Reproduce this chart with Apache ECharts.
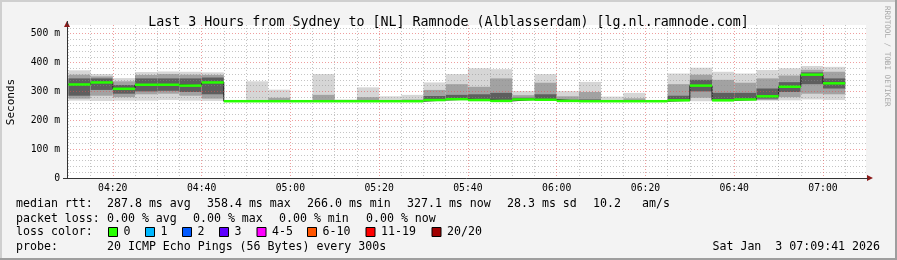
<!DOCTYPE html>
<html><head><meta charset="utf-8">
<script src="https://cdn.jsdelivr.net/npm/echarts@6/dist/echarts.min.js"></script>
<style>html,body{margin:0;padding:0;background:#f3f3f3}#c{width:897px;height:260px}</style>
</head><body><div id="c"></div>
<script>
// ---- data (ms) : 5-minute steps, smoke quantiles ----
const times  = ['04:10','04:15','04:20','04:25','04:30','04:35','04:40','04:45','04:50','04:55',
                '05:00','05:05','05:10','05:15','05:20','05:25','05:30','05:35','05:40','05:45',
                '05:50','05:55','06:00','06:05','06:10','06:15','06:20','06:25','06:30','06:35',
                '06:40','06:45','06:50','06:55','07:00'];
const pMin   = [268,267,268,268,270,268,267,266,266,266, 266,266,266,266,266,266,268,270,268,266, 270,268,266,266,266,266,266,268,266,267, 269,268,269,272,270];
const pLo2   = [275,285,280,290,292,285,275,266,266,266, 266,266,266,266,266,266,269,271,269,267, 271,269,266,266,266,266,266,269,278,268, 270,270,280,292,290];
const pLo1   = [285,305,292,300,302,298,290,266,266,266, 266,266,266,266,266,266,270,272,270,267, 271,270,267,266,266,266,266,269,300,269, 271,275,298,325,310];
const median = [324,331,309,323,323,320,331,266,266,266, 266,266,266,266,266,266,270,273,270,267, 272,271,267,266,266,266,266,269,320,269, 272,283,316,358,328];
const pHi1   = [345,345,322,345,345,345,348,266,267,268, 266,268,266,268,266,267,284,288,290,295, 278,290,271,272,266,268,266,285,340,295, 295,310,332,366,345];
const pHi2   = [358,352,335,357,360,358,357,266,269,278, 266,288,268,280,270,272,305,325,316,345, 287,330,283,298,270,276,266,325,358,340, 330,345,355,375,368];
const pMax   = [373,360,346,367,369,368,366,266,335,306, 266,360,272,314,283,288,331,360,380,377, 301,360,301,333,282,295,268,362,382,368, 362,374,380,388,385];
const yTicks = [0,100,200,300,400,500];
const axisStartTime = '04:09:41', axisEndTime = '07:09:41';
const titleText = 'Last 3 Hours from Sydney to [NL] Ramnode (Alblasserdam) [lg.nl.ramnode.com]';
const lossLabels = ['0','1','2','3','4-5','6-10','11-19','20/20'];
const lossColors = ['#26ff00','#00b8ff','#0059ff','#5e00ff','#ff00ff','#ff5500','#ff0000','#a00000'];

// ---- helpers ----
const MONO = '"DejaVu Sans Mono", monospace';
const toMin = t => { const p = t.split(':').map(Number); return p[0]*60 + p[1] + (p[2]||0)/60; };
const STEP = 5;
const xMin = toMin(axisStartTime), xMax = toMin(axisEndTime);
const pad = n => (n < 10 ? '0' : '') + n;
const smokeData = times.map((t,i) => [toMin(t), toMin(t)+STEP, pMin[i], pLo2[i], pLo1[i], pHi1[i], pHi2[i], pMax[i]]);
const medData = times.map((t,i) => [toMin(t), toMin(t)+STEP, median[i]]);
const stepData = times.map((t,i) => [toMin(t), median[i]]);
stepData.push([toMin(times[times.length-1]) + STEP, median[median.length-1]]);

const chart = echarts.init(document.getElementById('c'), null, {renderer:'canvas', width:897, height:260});

function txt(x, y, s, align) {
  return {type:'text', x, y, silent:true, z:100,
    style:{text:s, fontFamily:MONO, fontSize:11.6, fill:'#000', verticalAlign:'middle', align:align||'left'}};
}
const graphics = [
  // frame shading
  {type:'rect', shape:{x:0,y:0,width:897,height:2}, style:{fill:'#cfcfcf'}, silent:true},
  {type:'rect', shape:{x:0,y:0,width:2,height:260}, style:{fill:'#cfcfcf'}, silent:true},
  {type:'rect', shape:{x:0,y:258,width:897,height:2}, style:{fill:'#9e9e9e'}, silent:true},
  {type:'rect', shape:{x:895,y:0,width:2,height:260}, style:{fill:'#9e9e9e'}, silent:true},
  // axis arrows
  {type:'polygon', shape:{points:[[867,175],[867,181],[873,178]]}, style:{fill:'#8b1a1a'}, silent:true, z:100},
  {type:'polygon', shape:{points:[[64,27],[70,27],[67,21]]}, style:{fill:'#8b1a1a'}, silent:true, z:100},
  {type:'line', shape:{x1:67.5,y1:21,x2:67.5,y2:25}, style:{stroke:'#333',lineWidth:1}, silent:true, z:100},
  {type:'line', shape:{x1:866,y1:178.5,x2:868,y2:178.5}, style:{stroke:'#333',lineWidth:1}, silent:true, z:100},
  {type:'line', shape:{x1:63,y1:178.5,x2:67,y2:178.5}, style:{stroke:'#333',lineWidth:1}, silent:true, z:100},
  // vertical texts
  {type:'text', x:11, y:102, rotation:Math.PI/2, silent:true,
    style:{text:'Seconds', fontFamily:MONO, fontSize:11, fill:'#000', align:'center', verticalAlign:'middle'}},
  {type:'text', x:887, y:6, rotation:-Math.PI/2, silent:true,
    style:{text:'RRDTOOL / TOBI OETIKER', fontFamily:MONO, fontSize:7.6, fill:'#a8a8a8', align:'left', verticalAlign:'middle'}},
  // legend lines
  txt(16, 204, 'median rtt:'),
  txt(107, 204, '287.8 ms avg'),
  txt(207, 204, '358.4 ms max'),
  txt(307, 204, '266.0 ms min'),
  txt(407, 204, '327.1 ms now'),
  txt(507, 204, '28.3 ms sd'),
  txt(593, 204, '10.2'),
  txt(642, 204, 'am/s'),
  txt(16, 218.7, 'packet loss:'),
  txt(107, 218.7, '0.00 % avg'),
  txt(193, 218.7, '0.00 % max'),
  txt(279, 218.7, '0.00 % min'),
  txt(366, 218.7, '0.00 % now'),
  txt(16, 232.3, 'loss color:'),
  txt(16, 246.7, 'probe:'),
  txt(107, 246.7, '20 ICMP Echo Pings (56 Bytes) every 300s'),
  txt(880, 246.7, 'Sat Jan  3 07:09:41 2026', 'right')
];
const boxX = [108.5,145.5,182.5,219.5,257,307.5,366,432];
lossLabels.forEach((l,i) => {
  graphics.push({type:'rect', shape:{x:boxX[i], y:227.5, width:9, height:9}, style:{fill:lossColors[i], stroke:'#000', lineWidth:1}, silent:true, z:100});
  graphics.push(txt(boxX[i]+15, 232.3, l));
});

const option = {
  animation:false,
  backgroundColor:'#f3f3f3',
  title:{text:titleText, left:'center', top:11, textStyle:{fontFamily:MONO, fontSize:13.3, fontWeight:'normal', color:'#000'}},
  grid:{left:67, top:25, width:799, height:153, show:true, backgroundColor:'#ffffff', borderWidth:0},
  xAxis:{type:'value', min:xMin, max:xMax, splitNumber:9, z:5,
    axisLine:{show:true, onZero:false, lineStyle:{color:'#333', width:1}},
    axisTick:{show:false},
    axisLabel:{margin:5, fontFamily:MONO, fontSize:9.75, color:'#000', showMinLabel:false, showMaxLabel:false,
      formatter:v => { const m = Math.round(v); if (Math.abs(v-m) > 1e-6 || m % 20) return ''; return pad(Math.floor(m/60)) + ':' + pad(m%60); }},
    splitLine:{show:true, showMinLine:false, showMaxLine:false, lineStyle:{color:'rgba(225,80,80,0.55)', type:[1,2], width:1}},
    minorTick:{show:false, splitNumber:4},
    minorSplitLine:{show:true, lineStyle:{color:'rgba(140,140,140,0.5)', type:[1,2], width:1}}
  },
  yAxis:{type:'value', min:0, max:530, splitNumber:5, z:5,
    axisLine:{show:true, lineStyle:{color:'#333', width:1}},
    axisTick:{show:false},
    axisLabel:{margin:7, fontFamily:MONO, fontSize:9.75, color:'#000', showMaxLabel:false,
      formatter:v => yTicks.indexOf(v) < 0 ? '' : (v === 0 ? '0' : v + ' m')},
    splitLine:{show:true, showMinLine:false, showMaxLine:false, lineStyle:{color:'rgba(225,80,80,0.55)', type:[1,2], width:1}},
    minorTick:{show:false, splitNumber:5},
    minorSplitLine:{show:true, lineStyle:{color:'rgba(140,140,140,0.5)', type:[1,2], width:1}}
  },
  series:[
    {type:'custom', name:'smoke', z:2, data:smokeData, encode:{x:[0,1], y:[2,3,4,5,6,7]},
      renderItem:(params, api) => {
        const x0 = api.value(0), x1 = api.value(1);
        const bands = [[2,7,'#d6d6d6'],[3,6,'#a2a2a2'],[4,5,'#5e5e5e']];
        const children = [];
        bands.forEach(b => {
          const a = api.coord([x0, api.value(b[1])]);
          const c = api.coord([x1, api.value(b[0])]);
          const h = c[1] - a[1];
          if (h > 0.3) children.push({type:'rect', shape:{x:a[0], y:a[1], width:c[0]-a[0], height:h}, style:{fill:b[2]}});
        });
        return {type:'group', children};
      }},
    {type:'line', name:'step', z:3, data:stepData, step:'end', symbol:'none', lineStyle:{color:'#1a1a1a', width:1}},
    {type:'custom', name:'median', z:6, data:medData, encode:{x:[0,1], y:2},
      renderItem:(params, api) => {
        const a = api.coord([api.value(0), api.value(2)]);
        const b = api.coord([api.value(1), api.value(2)]);
        return {type:'rect', shape:{x:a[0], y:a[1]-1.25, width:b[0]-a[0], height:2.5}, style:{fill:'#26ff00'}};
      }}
  ],
  graphic:graphics
};
chart.setOption(option);
</script></body></html>
